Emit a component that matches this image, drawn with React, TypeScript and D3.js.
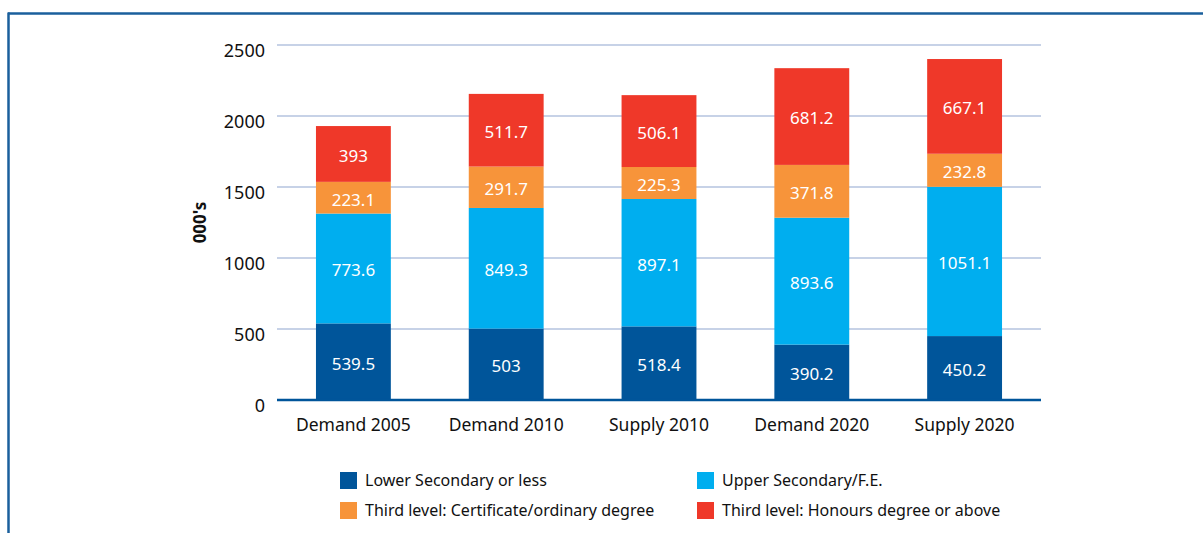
import React from "react";
import * as d3 from "d3";

const categories = ["Demand 2005", "Demand 2010", "Supply 2010", "Demand 2020", "Supply 2020"];
const seriesNames = [
  "Lower Secondary or less",
  "Upper Secondary/F.E.",
  "Third level: Certificate/ordinary degree",
  "Third level: Honours degree or above",
];
const lowerSecondary = [539.5, 503, 518.4, 390.2, 450.2];
const upperSecondary = [773.6, 849.3, 897.1, 893.6, 1051.1];
const thirdCertificate = [223.1, 291.7, 225.3, 371.8, 232.8];
const thirdHonours = [393, 511.7, 506.1, 681.2, 667.1];
const yTicks = [0, 500, 1000, 1500, 2000, 2500];
const colors = ["#00559a", "#00aeef", "#f7943a", "#ef3829"];

const FONT = "'Noto Sans', 'Open Sans', sans-serif";

export default function App() {
  const left = 277, right = 1041, top = 45, bottom = 400;
  const x = d3.scaleBand<string>().domain(categories).range([left, right]).paddingInner(0.51).paddingOuter(0.255);
  const y = d3.scaleLinear().domain([0, 2500]).range([bottom, top]);

  const rows = categories.map((c, i) => ({
    cat: c,
    s0: lowerSecondary[i],
    s1: upperSecondary[i],
    s2: thirdCertificate[i],
    s3: thirdHonours[i],
  }));
  const stack = d3.stack<any>().keys(["s0", "s1", "s2", "s3"])(rows);

  const legend = [
    { name: seriesNames[0], color: colors[0], x: 340, y: 472 },
    { name: seriesNames[1], color: colors[1], x: 697, y: 472 },
    { name: seriesNames[2], color: colors[2], x: 340, y: 502 },
    { name: seriesNames[3], color: colors[3], x: 697, y: 502 },
  ];

  return (
    <svg
      width={1203}
      height={533}
      style={{ position: "absolute", left: 0, top: 0, display: "block", background: "#fff" }}
      fontFamily={FONT}
    >
      {/* frame */}
      <line x1={8} x2={1203} y1={13.5} y2={13.5} stroke="#1a5f9c" strokeWidth={2.5} />
      <line x1={8.5} x2={8.5} y1={12.5} y2={533} stroke="#1a5f9c" strokeWidth={2.5} />

      {/* grid */}
      {yTicks.filter((t) => t > 0).map((t) => (
        <line key={t} x1={left} x2={right} y1={y(t)} y2={y(t)} stroke="#8fa6cf" strokeWidth={1.2} />
      ))}
      {yTicks.map((t) => (
        <text key={"t" + t} x={265} y={y(t) + 6} dy="0.35em" textAnchor="end" fontSize={18} fill="#111">
          {t}
        </text>
      ))}

      {/* bars */}
      {stack.map((layer, si) =>
        layer.map((d, i) => {
          const x0 = x(categories[i])!;
          const y0 = y(d[1]);
          const h = y(d[0]) - y(d[1]);
          return (
            <g key={si + "-" + i}>
              <rect x={x0} y={y0} width={x.bandwidth()} height={h} fill={colors[si]} />
              <text
                x={x0 + x.bandwidth() / 2}
                y={y0 + h / 2 + 2}
                dy="0.35em"
                textAnchor="middle"
                fontSize={17}
                fill="#fff"
              >
                {String((rows[i] as any)["s" + si])}
              </text>
            </g>
          );
        })
      )}

      {/* zero axis */}
      <line x1={left} x2={right} y1={y(0)} y2={y(0)} stroke="#00559a" strokeWidth={2.5} />

      {/* category labels */}
      {categories.map((c) => (
        <text key={c} x={x(c)! + x.bandwidth() / 2} y={431} textAnchor="middle" fontSize={17.5} fill="#111">
          {c}
        </text>
      ))}

      {/* y title */}
      <text
        transform={`translate(206, ${y(1250)}) rotate(-90)`}
        textAnchor="middle"
        fontSize={17}
        fontWeight="bold"
        fill="#111"
      >
        000's
      </text>

      {/* legend */}
      {legend.map((l) => (
        <g key={l.name}>
          <rect x={l.x} y={l.y} width={17} height={17} fill={l.color} />
          <text x={l.x + 25} y={l.y + 8.5} dy="0.35em" fontSize={16} fill="#111">
            {l.name}
          </text>
        </g>
      ))}
    </svg>
  );
}
